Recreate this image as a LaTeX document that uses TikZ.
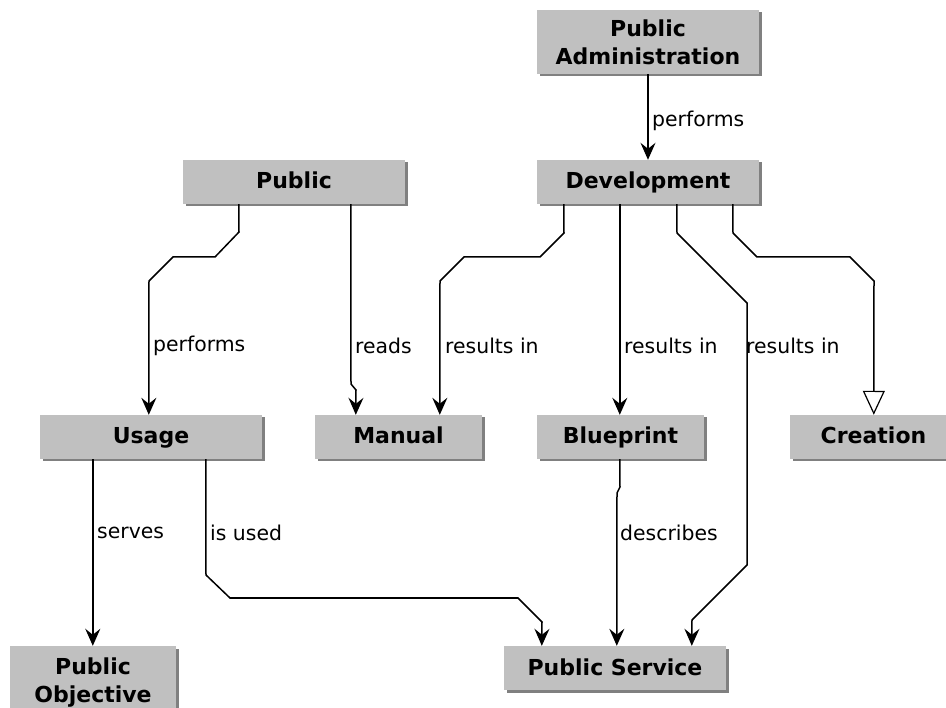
\documentclass[tikz,border=0pt]{standalone}
\usepackage{fontspec}
\setmainfont{DejaVu Sans}
\usetikzlibrary{arrows.meta,shadows,calc}
\definecolor{boxgray}{HTML}{C0C0C0}
\definecolor{shadowgray}{HTML}{808080}
\tikzset{
  entity/.style={fill=boxgray, inner sep=0pt, align=center,
    font=\fontsize{22}{28}\selectfont\bfseries,
    drop shadow={shadow xshift=2.5pt,shadow yshift=-2.5pt,fill=shadowgray,opacity=1}},
  oneline/.style={text height=16pt, text depth=2pt, minimum height=44pt},
  conn/.style={line width=1.5pt, -{Stealth[length=17pt,width=15pt,inset=6pt]}},
  genconn/.style={line width=1.5pt, -{Triangle[open,length=24pt,width=22pt,fill=white,line width=1.2pt]}},
  lbl/.style={anchor=west, inner sep=0pt, font=\fontsize{20.4}{24}\selectfont}
}
\begin{document}
\begin{tikzpicture}[x=1pt,y=-1pt]
\useasboundingbox (0,0) rectangle (946,708);
\clip (0,0) rectangle (946,708);
% boxes
\node[entity, minimum width=222pt, minimum height=64pt] (pa) at (648,42) {Public\\Administration};
\node[entity, oneline, minimum width=222pt] (dev) at (648,182) {Development};
\node[entity, oneline, minimum width=222pt] (pub) at (294,182) {Public};
\node[entity, oneline, minimum width=222pt] (usage) at (151,437) {Usage};
\node[entity, oneline, minimum width=167pt] (manual) at (398.5,437) {Manual};
\node[entity, oneline, minimum width=167pt] (blue) at (620.5,437) {Blueprint};
\node[entity, oneline, minimum width=167pt] (creation) at (873.5,437) {Creation};
\node[entity, minimum width=166pt, minimum height=74pt] (po) at (93,683) {Public\\Objective};
\node[entity, oneline, minimum width=222pt] (ps) at (615,668) {Public Service};
% connectors
\draw[conn] (pa.south) -- (dev.north);
\draw[conn] ($(pub.south west)+(56,0)$) -- (239,232) -- (215,257) -- (173,257) -- (149,281) -- ($(usage.north west)+(109,0)$);
\draw[conn] ($(pub.south west)+(168,0)$) -- (351,384) -- (356,390) -- ($(manual.north west)+(41,0)$);
\draw[conn] ($(dev.south west)+(27,0)$) -- (564,233) -- (540,257) -- (464,257) -- (440,281) -- ($(manual.north west)+(125,0)$);
\draw[conn] ($(dev.south west)+(83,0)$) -- ($(blue.north west)+(83,0)$);
\draw[conn] ($(dev.south west)+(140,0)$) -- (677,233) -- (747,303) -- (747,565) -- (692,620) -- ($(ps.north west)+(188,0)$);
\draw[genconn] ($(dev.south west)+(196,0)$) -- (733,233) -- (757,257) -- (850,257) -- (874,281) -- ($(creation.north west)+(84,0)$);
\draw[conn] ($(blue.south west)+(83,0)$) -- (620,487) -- (617,493) -- ($(ps.north west)+(113,0)$);
\draw[conn] ($(usage.south west)+(53,0)$) -- ($(po.north west)+(83,0)$);
\draw[conn] ($(usage.south west)+(166,0)$) -- (206,575) -- (230,598) -- (518,598) -- (542,622) -- ($(ps.north west)+(38,0)$);
% labels
\node[lbl] (l1) at (652,121) {performs};
\node[lbl] (l2) at (153,346) {performs};
\node[lbl] (l3) at (355,346) {reads};
\node[lbl] (l4) at (445,346) {results in};
\node[lbl] (l5) at (624,346) {results in};
\node[lbl] (l6) at (746,346) {results in};
\node[lbl] (l7) at (97,533) {serves};
\node[lbl] (l8) at (210,533) {is used};
\node[lbl] (l9) at (620,533) {describes};
\end{tikzpicture}
\end{document}
